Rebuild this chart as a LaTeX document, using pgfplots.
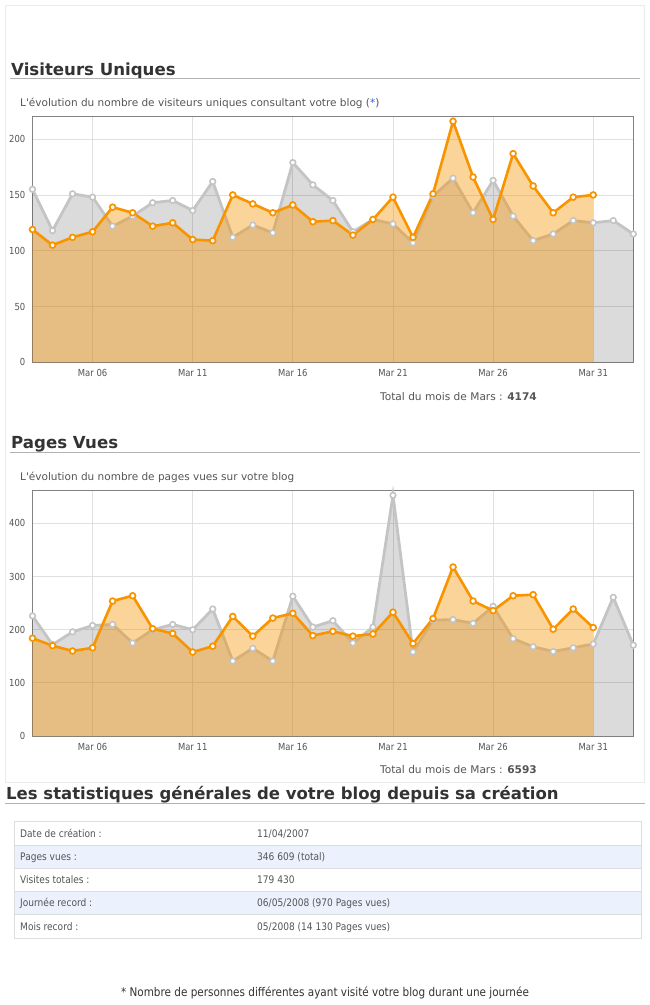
\documentclass[border=0pt]{standalone}
\usepackage{fontspec}
\setmainfont{DejaVu Sans}
\newfontfamily\condfont{DejaVu Sans}[FakeStretch=0.87]
\usepackage{pgfplots}
\usepackage{pgfplotstable}
\pgfplotsset{compat=1.18}

\definecolor{org}{RGB}{247,148,0}
\definecolor{grl}{RGB}{196,196,196}
\definecolor{head}{RGB}{51,51,51}
\definecolor{subcol}{RGB}{85,85,85}
\definecolor{tickcol}{RGB}{84,84,84}
\definecolor{uline}{RGB}{178,178,178}
\definecolor{panel}{RGB}{235,235,235}
\definecolor{axiscol}{RGB}{130,130,130}
\definecolor{gridcol}{RGB}{224,224,224}
\definecolor{tblborder}{RGB}{221,221,221}
\definecolor{tblblue}{RGB}{235,242,253}
\definecolor{astblue}{RGB}{50,100,220}

% Visiteurs uniques, month (grey) and current (orange)
\pgfplotstableread{
d v
3 155
4 118
5 151
6 148
7 122
8 131
9 143
10 145
11 136
12 162
13 112
14 123
15 116
16 179
17 159
18 145
19 117
20 128
21 124
22 107
23 149
24 165
25 134
26 163
27 131
28 109
29 115
30 127
31 125
32 127
33 115
}\visG
\pgfplotstableread{
d v
3 119
4 105
5 112
6 117
7 139
8 134
9 122
10 125
11 110
12 109
13 150
14 142
15 134
16 141
17 126
18 127
19 114
20 128
21 148
22 112
23 151
24 216
25 166
26 128
27 187
28 158
29 134
30 148
31 150
}\visO
% Pages vues
\pgfplotstableread{
d v
3 226
4 172
5 196
6 208
7 210
8 175
9 200
10 210
11 200
12 239
13 141
14 165
15 141
16 263
17 205
18 217
19 175
20 205
21 453
22 158
23 218
24 219
25 212
26 244
27 183
28 168
29 159
30 166
31 173
32 261
33 171
}\pagG
\pgfplotstableread{
d v
3 184
4 170
5 160
6 166
7 254
8 264
9 202
10 193
11 158
12 169
13 225
14 188
15 222
16 231
17 189
18 197
19 188
20 192
21 233
22 174
23 221
24 318
25 254
26 236
27 264
28 266
29 201
30 239
31 204
}\pagO

\pgfplotsset{
  statax/.style={
    scale only axis, width=600.8pt, height=245.5pt,
    anchor=south west,
    xmin=3, xmax=33, ymin=0,
    clip=false,
    axis line style={draw=axiscol, line width=0.9pt},
    grid=major,
    major grid style={draw=gridcol, line width=0.8pt},
    major tick length=0pt,
    xtick={6,11,16,21,26,31},
    xticklabels={Mar 06,Mar 11,Mar 16,Mar 21,Mar 26,Mar 31},
    tick label style={font=\condfont\fontsize{9.7}{11}\selectfont, text=tickcol},
    /pgf/number format/assume math mode=true,
    yticklabel style={inner sep=0pt, xshift=-7pt},
    xticklabel style={inner sep=0pt, yshift=-7pt},
  },
  gfill/.style={draw=none, fill=black, fill opacity=0.14},
  gline/.style={draw=grl, line width=2.8pt, mark=*, mark size=2.8pt,
    mark options={fill=white, draw=grl, line width=1.6pt}},
  ofill/.style={draw=none, fill=org, fill opacity=0.4},
  oline/.style={draw=org, line width=2.6pt, mark=*, mark size=2.9pt,
    mark options={fill=white, draw=org, line width=1.7pt}},
}

\begin{document}
\begin{tikzpicture}
\useasboundingbox (0,0) rectangle (650pt,-1005pt);
\fill[white] (0,0) rectangle (650pt,-1005pt);
\draw[panel, line width=1pt] (5pt,-5pt) rectangle (644.5pt,-782pt);

% ---------- Visiteurs Uniques ----------
\node[anchor=base west, inner sep=0pt, text=head, font=\bfseries\fontsize{16.6}{20}\selectfont] at (11pt,-75pt) {Visiteurs Uniques};
\draw[uline, line width=1pt] (10pt,-78.5pt) -- (640pt,-78.5pt);
\node[anchor=base west, inner sep=0pt, text=subcol, font=\fontsize{10.5}{12}\selectfont] at (20pt,-106pt) {L\textquotesingle évolution du nombre de visiteurs uniques consultant votre blog ({\color{astblue}*})};

\begin{axis}[statax, at={(32.5pt,-362.3pt)}, ymax=220, ytick={0,50,100,150,200}]
\addplot[gfill] table[x=d,y=v]{\visG} \closedcycle;
\addplot[gline] table[x=d,y=v]{\visG};
\addplot[ofill] table[x=d,y=v]{\visO} \closedcycle;
\addplot[oline] table[x=d,y=v]{\visO};
\end{axis}
\node[anchor=base east, inner sep=0pt, text=subcol, font=\fontsize{10.6}{12}\selectfont] at (537pt,-400pt) {Total du mois de Mars : \textbf{4174}};

% ---------- Pages Vues ----------
\node[anchor=base west, inner sep=0pt, text=head, font=\bfseries\fontsize{16.6}{20}\selectfont] at (11pt,-448.3pt) {Pages Vues};
\draw[uline, line width=1pt] (10pt,-452pt) -- (640pt,-452pt);
\node[anchor=base west, inner sep=0pt, text=subcol, font=\fontsize{10.5}{12}\selectfont] at (20pt,-480.7pt) {L\textquotesingle évolution du nombre de pages vues sur votre blog};

\begin{axis}[statax, at={(32.5pt,-736pt)}, ymax=462, ytick={0,100,200,300,400}]
\addplot[gfill] table[x=d,y=v]{\pagG} \closedcycle;
\addplot[gline] table[x=d,y=v]{\pagG};
\addplot[ofill] table[x=d,y=v]{\pagO} \closedcycle;
\addplot[oline] table[x=d,y=v]{\pagO};
\end{axis}
\node[anchor=base east, inner sep=0pt, text=subcol, font=\fontsize{10.6}{12}\selectfont] at (537pt,-773.5pt) {Total du mois de Mars : \textbf{6593}};

% ---------- Statistiques générales ----------
\node[anchor=base west, inner sep=0pt, text=head, font=\bfseries\fontsize{16.5}{20}\selectfont] at (6pt,-799.3pt) {Les statistiques générales de votre blog depuis sa création};
\draw[uline, line width=1pt] (5pt,-803.5pt) -- (645pt,-803.5pt);

\fill[tblblue] (14pt,-845pt) rectangle (641pt,-868.3pt);
\fill[tblblue] (14pt,-891.6pt) rectangle (641pt,-914.9pt);
\draw[tblborder, line width=1pt] (14pt,-821.7pt) rectangle (641pt,-938.2pt);
\foreach \yy in {845,868.3,891.6,914.9} \draw[tblborder, line width=1pt] (14pt,-\yy pt) -- (641pt,-\yy pt);

\begin{scope}[every node/.style={anchor=base west, inner sep=0pt, text=subcol, font=\condfont\fontsize{10.4}{12}\selectfont}]
\node at (20pt,-837pt) {Date de création :};
\node at (257pt,-837pt) {11/04/2007};
\node at (20pt,-860.3pt) {Pages vues :};
\node at (257pt,-860.3pt) {346 609 (total)};
\node at (20pt,-883.6pt) {Visites totales :};
\node at (257pt,-883.6pt) {179 430};
\node at (20pt,-906.9pt) {Journée record :};
\node at (257pt,-906.9pt) {06/05/2008 (970 Pages vues)};
\node at (20pt,-930.2pt) {Mois record :};
\node at (257pt,-930.2pt) {05/2008 (14 130 Pages vues)};
\end{scope}

\node[anchor=base, inner sep=0pt, text=head, font=\condfont\fontsize{12}{13}\selectfont] at (325pt,-996pt) {* Nombre de personnes différentes ayant visité votre blog durant une journée};
\end{tikzpicture}
\end{document}
